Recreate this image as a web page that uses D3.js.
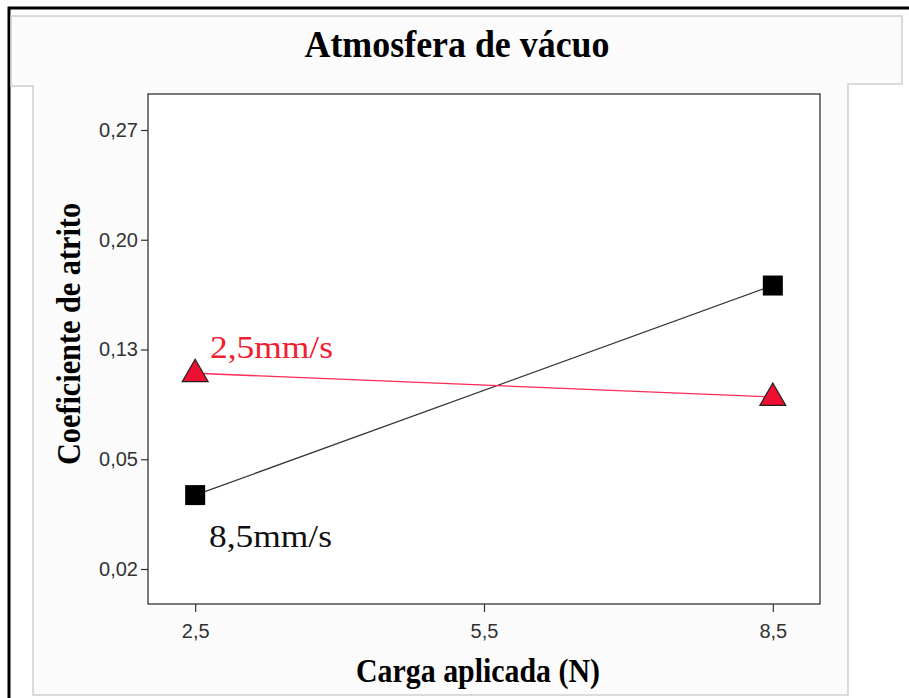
<!DOCTYPE html>
<html>
<head>
<meta charset="utf-8">
<script src="https://cdn.jsdelivr.net/npm/d3@7"></script>
<style>
  body { margin: 0; background: #fff; }
  svg { display: block; }
</style>
</head>
<body>
<svg width="909" height="698"></svg>
<script>
let cargas = [2.5, 8.5];
let xTicks = [2.5, 5.5, 8.5];
let yTicks = [0.02, 0.05, 0.13, 0.20, 0.27];
let lento = [0.1127, 0.0954];   // 2,5mm/s
let rapido = [0.0402, 0.1708];  // 8,5mm/s

let svg = d3.select("svg");

let fmt = d => String(d).replace(".", ",");
let fmtY = d => d.toFixed(2).replace(".", ",");

// outer black frame (top + left only, the rest is cut off)
svg.append("path")
  .attr("d", "M9,698 V8 H909")
  .attr("fill", "none")
  .attr("stroke", "#000")
  .attr("stroke-width", 3);

// title box and panel outline
svg.append("path")
  .attr("d", "M11,16 H902 V84 H848 V695 H33 V86 H11 Z")
  .attr("fill", "#fbfbfb")
  .attr("stroke", "#cfcfcf")
  .attr("stroke-width", 1.5);

svg.append("text")
  .attr("x", 457)
  .attr("y", 57)
  .attr("text-anchor", "middle")
  .attr("font-family", "Liberation Serif, Times New Roman, serif")
  .attr("font-weight", "bold")
  .attr("font-size", 37)
  .attr("textLength", 305)
  .attr("lengthAdjust", "spacingAndGlyphs")
  .text("Atmosfera de vácuo");

let pLeft = 148, pRight = 820, pTop = 94, pBottom = 604;

let x = d3.scaleLinear().domain([2.01, 8.99]).range([pLeft, pRight]);
// tick labels sit at evenly spaced positions
let step = 109.75;
let y = d3.scaleLinear()
  .domain(yTicks)
  .range(yTicks.map((d, i) => pBottom - 35 - i * step));

svg.append("rect")
  .attr("x", pLeft).attr("y", pTop)
  .attr("width", pRight - pLeft).attr("height", pBottom - pTop)
  .attr("fill", "#fff")
  .attr("stroke", "#333")
  .attr("stroke-width", 1.3);

let xAxis = svg.append("g")
  .attr("transform", `translate(0,${pBottom})`)
  .call(d3.axisBottom(x).tickValues(xTicks).tickFormat(fmt).tickSize(8).tickSizeOuter(0));
let yAxis = svg.append("g")
  .attr("transform", `translate(${pLeft},0)`)
  .call(d3.axisLeft(y).tickValues(yTicks).tickFormat(fmtY).tickSize(7).tickSizeOuter(0));

[xAxis, yAxis].forEach(a => {
  a.select(".domain").remove();
  a.selectAll("line").attr("stroke", "#333").attr("stroke-width", 1.2);
  a.selectAll("text")
    .attr("fill", "#333")
    .attr("font-family", "Liberation Sans, Arial, sans-serif")
    .attr("font-size", 20);
});
xAxis.selectAll("text").attr("dy", "1.15em");
yAxis.selectAll("text").attr("x", -10);

svg.append("text")
  .attr("x", 478)
  .attr("y", 682)
  .attr("text-anchor", "middle")
  .attr("font-family", "Liberation Serif, Times New Roman, serif")
  .attr("font-weight", "bold")
  .attr("font-size", 33)
  .attr("textLength", 244)
  .attr("lengthAdjust", "spacingAndGlyphs")
  .text("Carga aplicada (N)");

svg.append("text")
  .attr("transform", "translate(80,334) rotate(-90)")
  .attr("text-anchor", "middle")
  .attr("font-family", "Liberation Serif, Times New Roman, serif")
  .attr("font-weight", "bold")
  .attr("font-size", 34)
  .attr("textLength", 262)
  .attr("lengthAdjust", "spacingAndGlyphs")
  .text("Coeficiente de atrito");

let line = d3.line().x((d, i) => x(cargas[i])).y(d => y(d));

svg.append("path")
  .datum(rapido)
  .attr("d", line)
  .attr("fill", "none")
  .attr("stroke", "#333")
  .attr("stroke-width", 1.2);

svg.append("path")
  .datum(lento)
  .attr("d", line)
  .attr("fill", "none")
  .attr("stroke", "#ff2a55")
  .attr("stroke-width", 1.3);

svg.append("g")
  .selectAll("rect")
  .data(rapido)
  .enter().append("rect")
  .attr("x", (d, i) => x(cargas[i]) - 10)
  .attr("y", d => y(d) - 10)
  .attr("width", 20)
  .attr("height", 20)
  .attr("fill", "#000");

let tri = d3.symbol().type(d3.symbolTriangle).size(290);
svg.append("g")
  .selectAll("path")
  .data(lento)
  .enter().append("path")
  .attr("d", tri)
  .attr("transform", (d, i) => `translate(${x(cargas[i])},${y(d) + 1})`)
  .attr("fill", "#ee1030")
  .attr("stroke", "#222")
  .attr("stroke-width", 1.2);

svg.append("text")
  .attr("x", 210)
  .attr("y", 358)
  .attr("fill", "#f02030")
  .attr("font-family", "Liberation Serif, Times New Roman, serif")
  .attr("font-size", 31)
  .attr("textLength", 123)
  .attr("lengthAdjust", "spacingAndGlyphs")
  .text("2,5mm/s");

svg.append("text")
  .attr("x", 209)
  .attr("y", 547)
  .attr("fill", "#111")
  .attr("font-family", "Liberation Serif, Times New Roman, serif")
  .attr("font-size", 31)
  .attr("textLength", 123)
  .attr("lengthAdjust", "spacingAndGlyphs")
  .text("8,5mm/s");
</script>
</body>
</html>
